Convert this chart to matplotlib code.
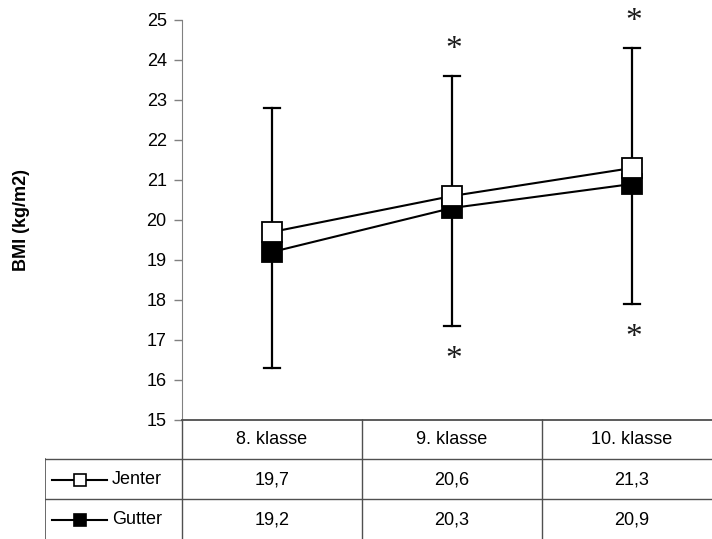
import matplotlib
matplotlib.use('agg')
import matplotlib.pyplot as plt

plt.rcParams['font.family'] = ['Liberation Sans', 'DejaVu Sans']

klasser = ['8. klasse', '9. klasse', '10. klasse']
jenter = [19.7, 20.6, 21.3]
gutter = [19.2, 20.3, 20.9]
# whisker ends per class (upper from Jenter, lower from Gutter)
bar_upper = [22.8, 23.6, 24.3]
bar_lower = [16.3, 17.35, 17.9]
# significance marks: (class index, whisker end, side)
stjerner = [(1, 23.6, 'top'), (2, 24.3, 'top'), (1, 17.35, 'bottom'), (2, 17.9, 'bottom')]
yticks = [15, 16, 17, 18, 19, 20, 21, 22, 23, 24, 25]

W, H = 712, 539
fs = 13
fig = plt.figure(figsize=(W / 100, H / 100), dpi=100)

# plot area: each class gets 180 px, axis starts at x=182
ax = fig.add_axes([182 / W, (H - 420) / H, 540 / W, 400 / H])
xs = [i + 0.5 for i in range(len(klasser))]

for x, lo, hi in zip(xs, bar_lower, bar_upper):
    ax.plot([x, x], [lo, hi], color='black', lw=1.6, zorder=2)
    for yv in (lo, hi):
        ax.plot([x - 0.042, x + 0.042], [yv, yv], color='black', lw=1.6, zorder=2)

ax.plot(xs, gutter, color='black', lw=1.5, marker='s', ms=14.5,
        mfc='black', mec='black', mew=1.3, zorder=3)
ax.plot(xs, jenter, color='black', lw=1.5, marker='s', ms=14.5,
        mfc='white', mec='black', mew=1.3, zorder=4)

for i, yv, side in stjerner:
    off = 19 if side == 'top' else -24
    ax.annotate('*', (xs[i], yv), xytext=(1, off), textcoords='offset points',
                ha='center', va='center', fontsize=24, family='Liberation Serif',
                color='#1a1a1a')

ax.set_xlim(0, 3)
ax.set_ylim(15, 25)
ax.set_yticks(yticks)
ax.set_yticklabels([str(t) for t in yticks], fontsize=fs)
ax.set_xticks([])
ax.tick_params(axis='y', direction='out', length=6, width=1, color='#808080', pad=5)
for s in ['top', 'right']:
    ax.spines[s].set_visible(False)
ax.spines['left'].set_color('#808080')
ax.spines['bottom'].set_color('#404040')
ax.spines['bottom'].set_linewidth(1.2)
ax.set_ylabel('BMI (kg/m2)', fontsize=fs, fontweight='bold')
ax.yaxis.set_label_coords(-152 / 540, 0.5)

# data table under the plot
tab = fig.add_axes([45 / W, 0, 677 / W, 120 / H])
x0 = (45 - 182) / 180
tab.set_xlim(x0, 3)
tab.set_ylim(120, 0)
tab.axis('off')
gc = '#505050'
for xv in [0, 1, 2]:
    tab.plot([xv, xv], [0, 120], color=gc, lw=1)
tab.plot([x0, x0], [40, 120], color=gc, lw=1.2)
for yv in [40, 80]:
    tab.plot([x0, 3], [yv, yv], color=gc, lw=1)
for x, k in zip(xs, klasser):
    tab.text(x, 21, k, ha='center', va='center', fontsize=fs)
rows = [('Jenter', jenter, 'white'), ('Gutter', gutter, 'black')]
for r, (navn, vals, fc) in enumerate(rows):
    yc = 61 + 40 * r
    kx0, kx1 = x0 + 7 / 180, x0 + 62 / 180
    tab.plot([kx0, kx1], [yc, yc], color='black', lw=1.5)
    tab.plot([(kx0 + kx1) / 2], [yc], marker='s', ms=8, mfc=fc, mec='black', mew=1.2)
    tab.text(x0 + 67 / 180, yc, navn, ha='left', va='center', fontsize=fs)
    for x, v in zip(xs, vals):
        tab.text(x, yc, f'{v:.1f}'.replace('.', ','), ha='center', va='center', fontsize=fs)

fig.savefig('out.png', dpi=100)
